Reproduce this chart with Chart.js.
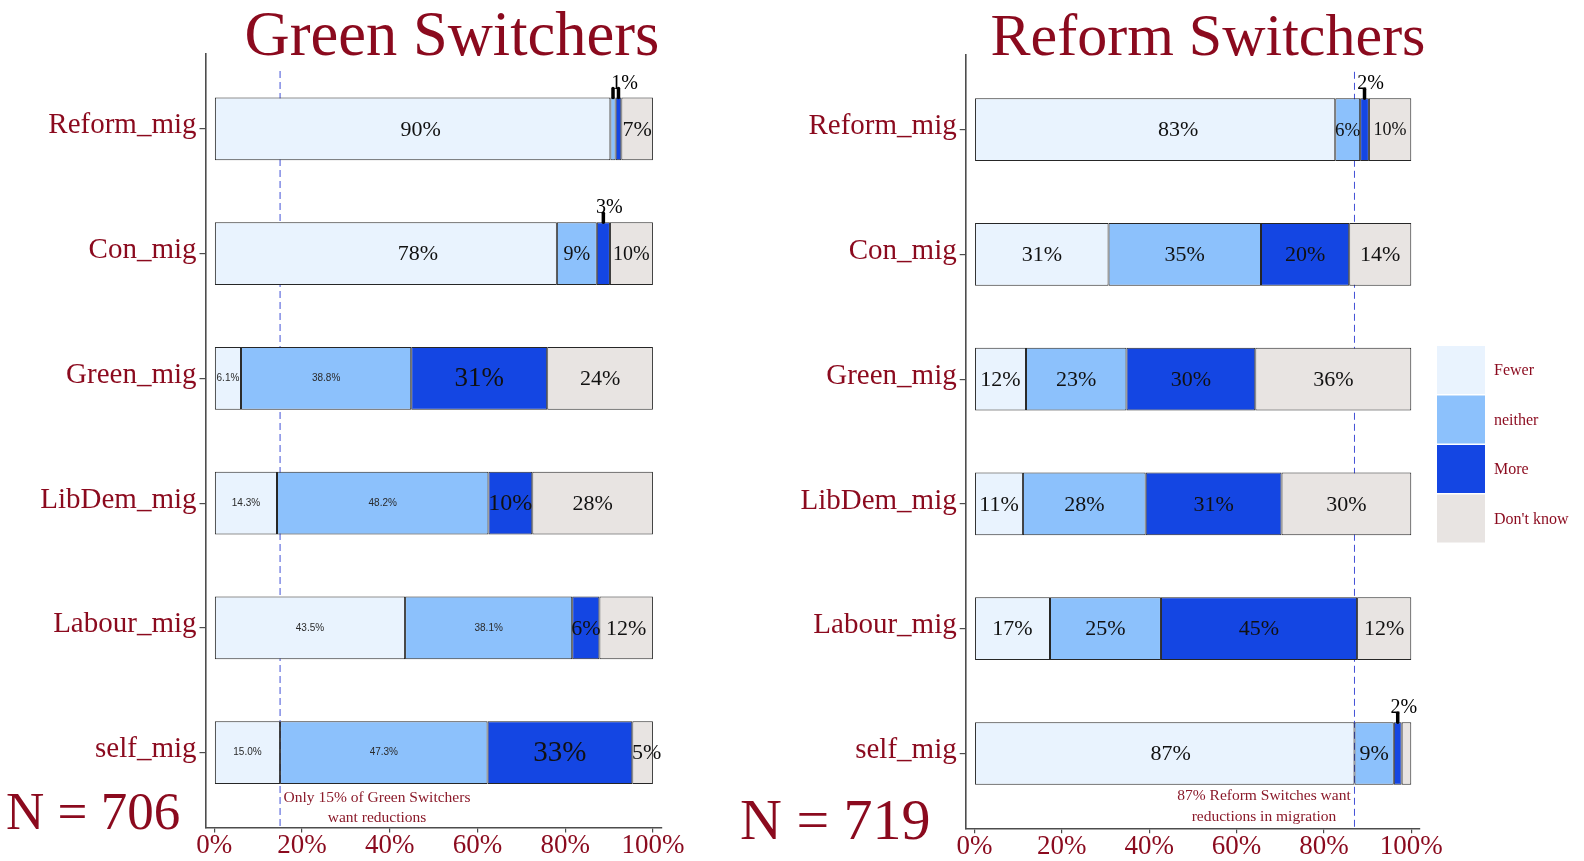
<!DOCTYPE html>
<html>
<head>
<meta charset="utf-8">
<script src="https://cdn.jsdelivr.net/npm/chart.js@4.4.1/dist/chart.umd.min.js"></script>
<style>
  html, body { margin: 0; padding: 0; background: #fff; overflow: hidden; }
  #wrap { position: relative; width: 1584px; height: 861px; }
  canvas { position: absolute; top: 0; }
  #greenChart { left: 0; }
  #reformChart { left: 720px; }
</style>
</head>
<body>
<div id="wrap">
  <canvas id="greenChart" width="720" height="861"></canvas>
  <canvas id="reformChart" width="864" height="861"></canvas>
</div>
<script>
const rows = ['Reform_mig', 'Con_mig', 'Green_mig', 'LibDem_mig', 'Labour_mig', 'self_mig'];
const answers = ['Fewer', 'neither', 'More', "Don't know"];
const xTicks = [0, 20, 40, 60, 80, 100];

// Green Switchers, N = 706
const greenFewer = [90.3, 78.1, 6.1, 14.3, 43.5, 15.0];
const greenNeither = [1.2, 9.1, 38.8, 48.2, 38.1, 47.3];
const greenMore = [1.3, 3.0, 31.0, 10.0, 6.2, 33.0];
const greenDontKnow = [7.2, 9.8, 24.1, 27.5, 12.2, 4.7];
const greenN = 706;
const greenRef = 15;

// Reform Switchers, N = 719
const reformFewer = [82.6, 30.7, 11.8, 11.1, 17.3, 87.0];
const reformNeither = [5.7, 34.9, 23.0, 28.1, 25.4, 9.0];
const reformMore = [2.0, 20.2, 29.5, 31.1, 44.9, 1.8];
const reformDontKnow = [9.7, 14.2, 35.7, 29.7, 12.4, 2.2];
const reformN = 719;
const reformRef = 87;

const colors = ['#e9f3fe', '#8cc1fc', '#1446e3', '#e8e4e2'];
const red = '#8b0a1e';
const serif = '"Liberation Serif", "Times New Roman", serif';

const panelDecor = {
  id: 'panelDecor',
  beforeDatasetsDraw(chart, args, opts) {
    const { ctx, chartArea, scales: { x } } = chart;
    const px = x.getPixelForValue(opts.refValue);
    ctx.save();
    ctx.strokeStyle = '#4150d6';
    ctx.lineWidth = 1;
    ctx.setLineDash([7, 4]);
    ctx.beginPath();
    ctx.moveTo(px, chartArea.top + 17);
    ctx.lineTo(px, chartArea.bottom);
    ctx.stroke();
    ctx.restore();
  },
  afterDatasetsDraw(chart, args, opts) {
    const ctx = chart.ctx;
    const sets = chart.data.datasets;
    ctx.save();
    sets.forEach((ds, d) => {
      const meta = chart.getDatasetMeta(d);
      meta.data.forEach((bar, i) => {
        const v = ds.data[i].x;
        const key = rows[i] + '|' + ds.label;
        const cx = (bar.x + bar.base) / 2;
        const top = bar.y - bar.height / 2;
        if (v < 4) {
          if (ds.label === "Don't know") return;
          ctx.strokeStyle = '#000';
          ctx.lineWidth = 3.5;
          ctx.lineCap = 'round';
          ctx.beginPath();
          ctx.moveTo(cx, top - 9);
          ctx.lineTo(cx, top);
          ctx.stroke();
          const next = sets[d + 1];
          const nextSmall = next && next.label !== "Don't know" && next.data[i].x < 4;
          if (!nextSmall) {
            ctx.fillStyle = '#000';
            ctx.font = '20px ' + serif;
            ctx.textAlign = 'center';
            ctx.textBaseline = 'alphabetic';
            ctx.fillText(Math.round(v) + '%', cx + 6, top - 9);
          }
          return;
        }
        ctx.textAlign = 'center';
        ctx.textBaseline = 'middle';
        const tx = cx + (opts.shift[key] || 0);
        if (opts.decimal.includes(key)) {
          ctx.fillStyle = '#2a2a2a';
          ctx.font = '10px "Liberation Sans", Arial, sans-serif';
          ctx.fillText(v.toFixed(1) + '%', tx, bar.y);
        } else {
          ctx.fillStyle = '#111';
          ctx.font = (opts.sizes[key] || 22) + 'px ' + serif;
          ctx.fillText(Math.round(v) + '%', tx, bar.y + 1);
        }
      });
    });
    ctx.restore();
  },
  afterDraw(chart, args, opts) {
    const ctx = chart.ctx;
    ctx.save();
    ctx.fillStyle = red;
    ctx.textBaseline = 'alphabetic';
    ctx.textAlign = 'center';
    ctx.font = opts.titleSize + 'px ' + serif;
    ctx.fillText(opts.title, opts.titleX, 55);

    ctx.textAlign = 'left';
    ctx.font = opts.nSize + 'px ' + serif;
    ctx.fillText('N = ' + opts.n, opts.nX, opts.nY);

    ctx.fillStyle = '#8b1a2a';
    ctx.textAlign = 'center';
    ctx.font = '15.5px ' + serif;
    opts.note.forEach((line, k) => ctx.fillText(line, opts.noteX, opts.noteY + k * 20.5));

    if (opts.legend) {
      const lg = opts.legend;
      chart.data.datasets.forEach((ds, k) => {
        const y = lg.top + k * lg.pitch;
        ctx.fillStyle = ds.backgroundColor;
        ctx.fillRect(lg.x, y, lg.box, lg.box);
        ctx.fillStyle = red;
        ctx.font = '16px ' + serif;
        ctx.textAlign = 'left';
        ctx.textBaseline = 'middle';
        ctx.fillText(ds.label, lg.textX, y + lg.box / 2 + 1);
      });
    }
    ctx.restore();
  }
};

function makeChart(id, series, box, decor) {
  const datasets = answers.map((a, k) => ({
    label: a,
    data: series[k].map((v, i) => ({ x: v, y: i })),
    backgroundColor: colors[k]
  }));
  const axisGrid = { drawOnChartArea: false, drawTicks: true, offset: false, color: '#4d4d4d', lineWidth: 1.2 };
  const axisBorder = { display: true, color: '#4d4d4d', width: 1.6 };
  return new Chart(document.getElementById(id), {
    type: 'bar',
    data: { datasets: datasets },
    plugins: [panelDecor],
    options: {
      indexAxis: 'y',
      responsive: false,
      animation: false,
      layout: { padding: { left: 0, top: box.top, right: box.right, bottom: 0 } },
      datasets: {
        bar: { barPercentage: 0.502, categoryPercentage: 1, borderWidth: 1, borderColor: '#262626', borderSkipped: false }
      },
      scales: {
        x: {
          type: 'linear',
          stacked: true,
          offset: false,
          min: -2,
          max: 102,
          afterBuildTicks: s => { s.ticks = xTicks.map(v => ({ value: v })); },
          afterFit: s => { s.height = box.xHeight; },
          grid: Object.assign({ tickLength: 5 }, axisGrid),
          border: axisBorder,
          ticks: { padding: 0, color: red, font: { family: serif, size: 27, lineHeight: 1 }, callback: v => v + '%' }
        },
        y: {
          type: 'linear',
          stacked: true,
          reverse: true,
          offset: false,
          min: -0.6,
          max: 5.6,
          afterBuildTicks: s => { s.ticks = rows.map((r, i) => ({ value: i })); },
          afterFit: s => { s.width = box.left; },
          grid: Object.assign({ tickLength: 6 }, axisGrid),
          border: axisBorder,
          ticks: { padding: 3, labelOffset: -3, color: red, font: { family: serif, size: 29 }, callback: v => rows[v] }
        }
      },
      plugins: {
        legend: { display: false },
        tooltip: { enabled: false },
        panelDecor: decor
      }
    }
  });
}

makeChart('greenChart',
  [greenFewer, greenNeither, greenMore, greenDontKnow],
  { left: 205.5, top: 54, right: 58.3, xHeight: 33.5 },
  {
    refValue: greenRef,
    title: 'Green Switchers', titleX: 452, titleSize: 62.5,
    n: greenN, nX: 6, nY: 829, nSize: 53,
    note: ['Only 15% of Green Switchers', 'want reductions'], noteX: 377, noteY: 801.5,
    decimal: ['Green_mig|Fewer', 'Green_mig|neither', 'LibDem_mig|Fewer', 'LibDem_mig|neither',
              'Labour_mig|Fewer', 'Labour_mig|neither', 'self_mig|Fewer', 'self_mig|neither'],
    sizes: { 'Green_mig|More': 27, 'self_mig|More': 29, 'LibDem_mig|More': 24,
             'Con_mig|neither': 20, "Con_mig|Don't know": 20 },
    shift: { 'Reform_mig|Fewer': 8, 'Con_mig|Fewer': 32, 'self_mig|Don\'t know': 4 }
  });

makeChart('reformChart',
  [reformFewer, reformNeither, reformMore, reformDontKnow],
  { left: 245.7, top: 54.8, right: 164, xHeight: 32.7 },
  {
    refValue: reformRef,
    title: 'Reform Switchers', titleX: 488, titleSize: 60,
    n: reformN, nX: 20, nY: 839, nSize: 58,
    note: ['87% Reform Switches want', 'reductions in migration'], noteX: 544, noteY: 800,
    decimal: [],
    sizes: { 'Reform_mig|neither': 19, "Reform_mig|Don't know": 18 },
    shift: { 'Reform_mig|Fewer': 23, 'self_mig|Fewer': 6 },
    legend: { x: 717, top: 346, box: 48, pitch: 49.5, textX: 774 }
  });
</script>
</body>
</html>
